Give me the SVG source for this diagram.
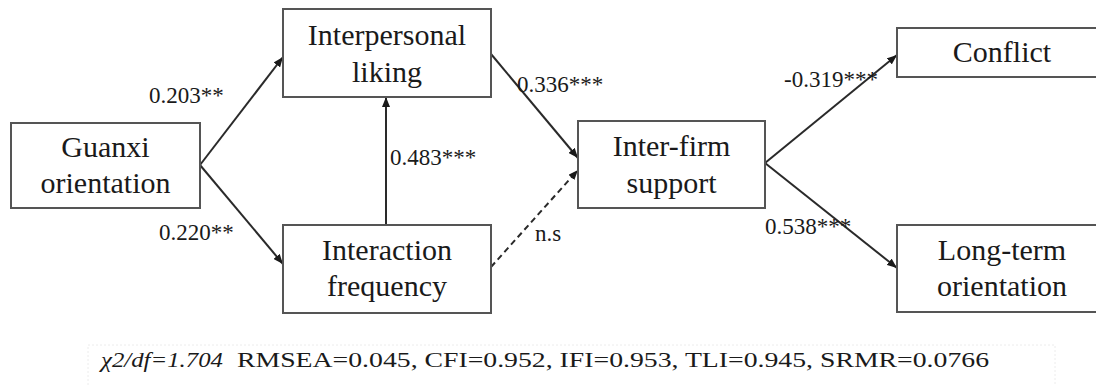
<svg xmlns="http://www.w3.org/2000/svg" width="1096" height="385" viewBox="0 0 1096 385">
  <style>
    .box { fill: #ffffff; stroke: #555555; stroke-width: 2; }
    .nt { font-family: "Liberation Serif", "Times New Roman", serif; font-size: 30px; fill: #1a1a1a; text-anchor: middle; }
    .el { font-family: "Liberation Serif", "Times New Roman", serif; font-size: 23px; fill: #1a1a1a; }
    .edge { fill: none; stroke: #2a2a2a; stroke-width: 2; marker-end: url(#ah); }
    .dash { stroke-dasharray: 6 4; }
    .fit { font-family: "Liberation Serif", "Times New Roman", serif; font-size: 21px; fill: #1a1a1a; }
  </style>
  <defs>
    <marker id="ah" markerWidth="10" markerHeight="8" refX="10" refY="4" orient="auto" markerUnits="userSpaceOnUse">
      <path d="M0,0 L10,4 L0,8 z" fill="#1a1a1a"/>
    </marker>
  </defs>
  <rect width="1096" height="385" fill="#ffffff"/>

  <g id="connectors">
    <line class="edge" x1="200" y1="165" x2="283" y2="57"/>
    <line class="edge" x1="200" y1="165" x2="283" y2="264"/>
    <line class="edge" x1="386" y1="225" x2="386" y2="97"/>
    <line class="edge" x1="491" y1="54" x2="578" y2="158"/>
    <line class="edge dash" x1="491" y1="267" x2="578" y2="170"/>
    <line class="edge" x1="765" y1="163" x2="897" y2="55"/>
    <line class="edge" x1="765" y1="163" x2="897" y2="268"/>
    <text class="el" x="149" y="103">0.203**</text>
    <text class="el" x="159" y="240">0.220**</text>
    <text class="el" x="390" y="165">0.483***</text>
    <text class="el" x="517" y="92">0.336***</text>
    <text class="el" x="535" y="241">n.s</text>
    <text class="el" x="784" y="87">-0.319***</text>
    <text class="el" x="765" y="234">0.538***</text>
  </g>

  <g id="guanxi">
    <rect class="box" x="11" y="123" width="189" height="85"/>
    <text class="nt" x="105.5" y="157">Guanxi</text>
    <text class="nt" x="105.5" y="193">orientation</text>
  </g>
  <g id="liking">
    <rect class="box" x="283" y="9" width="208" height="88"/>
    <text class="nt" x="387" y="45">Interpersonal</text>
    <text class="nt" x="387" y="82">liking</text>
  </g>
  <g id="frequency">
    <rect class="box" x="283" y="225" width="208" height="88"/>
    <text class="nt" x="387" y="260">Interaction</text>
    <text class="nt" x="387" y="296">frequency</text>
  </g>
  <g id="support">
    <rect class="box" x="578" y="121" width="187" height="87"/>
    <text class="nt" x="671.5" y="156">Inter-firm</text>
    <text class="nt" x="671.5" y="193">support</text>
  </g>
  <g id="conflict">
    <rect class="box" x="897" y="28" width="212" height="49"/>
    <text class="nt" x="1002" y="62">Conflict</text>
  </g>
  <g id="longterm">
    <rect class="box" x="897" y="225" width="212" height="87"/>
    <text class="nt" x="1002" y="260">Long-term</text>
    <text class="nt" x="1002" y="296">orientation</text>
  </g>

  <g id="fit">
    <polyline points="88,385 88,345 1055,345 1055,385" fill="none" stroke="#ececec" stroke-width="1" stroke-dasharray="2 2"/>
    <text class="fit" x="101" y="367" font-style="italic" textLength="122" lengthAdjust="spacingAndGlyphs">χ2/df=1.704</text>
    <text class="fit" x="237" y="367" textLength="752" lengthAdjust="spacingAndGlyphs">RMSEA=0.045, CFI=0.952, IFI=0.953, TLI=0.945, SRMR=0.0766</text>
  </g>
</svg>
